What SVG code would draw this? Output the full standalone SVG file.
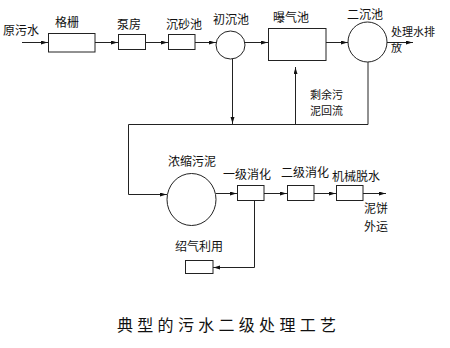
<svg xmlns="http://www.w3.org/2000/svg" width="450" height="348" viewBox="0 0 450 348">
<defs>
<marker id="ah" markerUnits="userSpaceOnUse" markerWidth="8" markerHeight="6" refX="7" refY="2" orient="auto">
<path d="M0,0 L6.5,2 L0,4 z" fill="#111"/>
</marker>
<style>
.t{font-family:"Noto Sans CJK SC","Liberation Sans",sans-serif;font-size:12px;fill:#111}
.s{font-size:11px}
.b{fill:#fff;stroke:#222;stroke-width:1}
.c{fill:none;stroke:#222;stroke-width:1}
.a{marker-end:url(#ah)}
</style>
</defs>
<rect width="450" height="348" fill="#fff"/>
<g id="connectors">
<path class="c a" d="M22,42.5 H48"/>
<path class="c a" d="M95,42.5 H118"/>
<path class="c a" d="M146,42.5 H168"/>
<path class="c a" d="M195,42.5 H216"/>
<path class="c a" d="M245,42.5 H268"/>
<path class="c a" d="M326,42.5 H348"/>
<path class="c a" d="M387,42.5 H413"/>
<path class="c a" d="M232.5,59 V124"/>
<path class="c" d="M368,62 V124.5 H128.5 V194.5"/>
<path class="c a" d="M295.5,124 V67"/>
<path class="c a" d="M128.5,194.5 H167"/>
<path class="c a" d="M216,193.5 H237"/>
<path class="c a" d="M264,193.5 H287"/>
<path class="c a" d="M314,193.5 H336"/>
<path class="c a" d="M363,193.5 H386"/>
<path class="c a" d="M254.5,200 V267.5 H213"/>
</g>
<g id="source"><text class="t" x="3" y="35">原污水</text></g>
<g id="grille"><rect class="b" x="48.5" y="33.5" width="46.5" height="18.5"/><text class="t" x="55" y="27">格栅</text></g>
<g id="pump"><rect class="b" x="118.5" y="34.5" width="27" height="15"/><text class="t" x="117" y="29">泵房</text></g>
<g id="grit"><rect class="b" x="168.5" y="34.5" width="26.5" height="15"/><text class="t" x="166" y="29">沉砂池</text></g>
<g id="primary"><ellipse class="b" cx="230.5" cy="45" rx="14.5" ry="14"/><text class="t" x="213" y="24">初沉池</text></g>
<g id="aeration"><rect class="b" x="268.5" y="28.5" width="57.5" height="32"/><text class="t" x="273" y="22">曝气池</text></g>
<g id="secondary"><ellipse class="b" cx="367.5" cy="42" rx="19.5" ry="20"/><text class="t" x="347" y="18.5">二沉池</text></g>
<g id="discharge"><text class="t s" x="391" y="36">处理水排</text><text class="t s" x="391" y="52">放</text></g>
<g id="return"><text class="t s" x="310" y="99">剩余污</text><text class="t s" x="310" y="115">泥回流</text></g>
<g id="thickener"><ellipse class="b" cx="191.5" cy="199.5" rx="24.5" ry="26"/><text class="t" x="168" y="166">浓缩污泥</text></g>
<g id="digest1"><rect class="b" x="237.5" y="185.5" width="26.5" height="15"/><text class="t" x="223" y="179">一级消化</text></g>
<g id="digest2"><rect class="b" x="287.5" y="185.5" width="26.5" height="15"/><text class="t" x="281" y="177">二级消化</text></g>
<g id="dewater"><rect class="b" x="336.5" y="185.5" width="26.5" height="15"/><text class="t" x="332" y="181">机械脱水</text></g>
<g id="cake"><text class="t" x="364" y="213">泥饼</text><text class="t" x="364" y="231">外运</text></g>
<g id="biogas"><rect class="b" x="185.5" y="260.5" width="27.5" height="13"/><text class="t" x="175" y="251">绍气利用</text></g>
<text class="t" x="117" y="331" style="font-size:16px;letter-spacing:4.3px">典型的污水二级处理工艺</text>
</svg>
